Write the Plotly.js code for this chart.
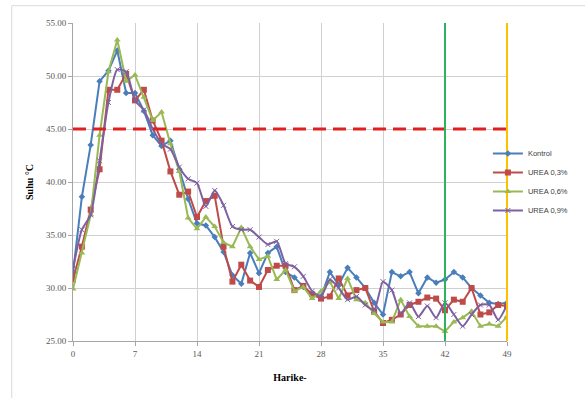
<!DOCTYPE html>
<html>
<head>
<meta charset="utf-8">
<script src="https://cdn.plot.ly/plotly-3.0.1.min.js"></script>
<style>html,body{margin:0;padding:0;background:#fff;}#chart{width:585px;height:398px;}</style>
</head>
<body>
<div id="chart"></div>
<script>
// ---- data ----
const days = [0,1,2,3,4,5,6,7,8,9,10,11,12,13,14,15,16,17,18,19,20,21,22,23,24,25,26,27,28,29,30,31,32,33,34,35,36,37,38,39,40,41,42,43,44,45,46,47,48,49];
const kontrol = [31.4,38.6,43.5,49.5,50.5,52.4,48.4,48.4,46.7,44.4,43.4,43.9,41.2,38.4,36.1,35.9,34.8,33.4,31.2,30.4,33.3,31.4,33.3,33.9,31.5,31.0,30.1,29.4,29.2,31.5,30.3,31.9,31.0,30.0,28.6,27.5,31.5,31.1,31.5,29.5,31.0,30.5,30.8,31.5,31.0,30.0,29.3,28.6,28.5,28.6];
const urea03 = [30.8,33.9,37.4,41.2,48.7,48.7,50.2,47.7,48.7,45.8,43.9,41.0,38.8,39.1,36.7,38.2,38.7,33.9,30.6,32.2,30.7,30.1,31.7,32.1,32.1,29.8,30.2,29.4,29.0,29.2,30.9,29.3,29.8,30.0,27.8,26.7,27.0,27.5,28.4,28.7,29.1,29.0,27.9,28.9,28.7,30.0,27.5,27.7,28.4,28.3];
const urea06 = [29.9,33.3,36.9,44.4,50.4,53.4,49.5,50.1,48.0,45.8,46.6,43.6,41.0,36.6,35.6,36.7,35.8,34.3,33.9,35.7,33.9,32.7,33.0,30.8,31.7,29.7,30.1,29.0,29.7,30.6,29.0,30.9,28.9,28.6,27.6,26.8,26.8,28.9,27.3,26.4,26.4,26.4,25.9,26.8,27.2,27.8,26.4,26.6,26.4,27.3];
const urea09 = [31.8,35.5,36.9,42.0,47.5,50.6,50.4,47.7,46.8,45.0,43.6,43.1,41.4,40.3,39.9,37.7,39.2,37.8,35.8,35.5,35.5,34.8,34.1,34.4,32.3,32.0,31.1,29.7,29.2,30.8,30.0,28.9,29.2,28.4,27.9,30.6,29.8,27.6,28.6,27.3,28.3,27.2,28.6,27.5,26.4,27.5,28.4,28.4,27.0,28.4];
const seriesNames = ["Kontrol","UREA 0,3%","UREA 0,6%","UREA 0,9%"];
const thresholdTemp = 45;
const markerDays = [42, 49];
const xTicks = [0,7,14,21,28,35,42,49];
const yTicks = [25,30,35,40,45,50,55];
const xRange = [0, 49];
const yRange = [25, 55];

const colors = ["#4a7ebb","#be4b48","#98b954","#7d60a0"];
const tickFont = {family:"Liberation Serif, serif", size:9, color:"#595959"};
const titleFont = {family:"Liberation Serif, serif", size:10, color:"#000", weight:"bold"};

const traces = [
  {x:days, y:kontrol, name:seriesNames[0], mode:"lines+markers",
   line:{color:colors[0], width:2}, marker:{symbol:"diamond", size:5, color:colors[0]}},
  {x:days, y:urea03, name:seriesNames[1], mode:"lines+markers",
   line:{color:colors[1], width:2}, marker:{symbol:"square", size:6, color:colors[1]}},
  {x:days, y:urea06, name:seriesNames[2], mode:"lines+markers",
   line:{color:colors[2], width:2}, marker:{symbol:"triangle-up", size:6, color:colors[2]}},
  {x:days, y:urea09, name:seriesNames[3], mode:"lines+markers",
   line:{color:colors[3], width:2, shape:"spline", smoothing:0.6},
   marker:{symbol:"x-thin-open", size:5, color:colors[3], line:{color:"#a08cc0", width:1}}}
];

// vertical marker lines placed as a fraction of the x range (not clipped at the edge)
const fracX = d => (d - xRange[0]) / (xRange[1] - xRange[0]);

const layout = {
  width:585, height:398,
  margin:{l:73, r:78, t:23, b:57},
  paper_bgcolor:"#fff", plot_bgcolor:"#fff",
  showlegend:true,
  legend:{x:0.956, xanchor:"left", y:0.50, yanchor:"middle",
    font:{family:"Liberation Sans, Arial, sans-serif", size:7.5, color:"#404040"},
    itemwidth:30, tracegroupgap:0, bgcolor:"rgba(0,0,0,0)", borderwidth:0},
  xaxis:{range:xRange, tickvals:xTicks, ticktext:xTicks.map(String),
    showgrid:true, gridcolor:"#d0d0d0", gridwidth:1,
    showline:true, linecolor:"#a6a6a6", linewidth:1,
    ticks:"outside", ticklen:4, tickcolor:"#a6a6a6",
    zeroline:false, tickfont:tickFont,
    title:{text:"Harike-", font:titleFont, standoff:16}},
  yaxis:{range:yRange, tickvals:yTicks, ticktext:yTicks.map(v=>v.toFixed(2)),
    showgrid:true, gridcolor:"#d0d0d0", gridwidth:1,
    showline:true, linecolor:"#a6a6a6", linewidth:1,
    ticks:"outside", ticklen:4, tickcolor:"#a6a6a6",
    zeroline:false, tickfont:tickFont,
    title:{text:"Suhu °C", font:titleFont, standoff:10}},
  shapes:[
    {type:"rect", xref:"paper", yref:"paper", x0:-0.1412, x1:1.19, y0:-0.216, y1:1.0544,
     line:{color:"#d9d9d9", width:1}, fillcolor:"rgba(0,0,0,0)", layer:"below"},
    {type:"line", xref:"x", yref:"y", x0:days[0], x1:days[days.length-1], y0:thresholdTemp, y1:thresholdTemp,
     line:{color:"#e02020", width:3, dash:"13px,7px"}},
    {type:"line", xref:"paper", yref:"y", x0:fracX(markerDays[0]), x1:fracX(markerDays[0]), y0:yRange[0], y1:yRange[1],
     line:{color:"#2db35d", width:2}},
    {type:"line", xref:"paper", yref:"y", x0:fracX(markerDays[1]), x1:fracX(markerDays[1]), y0:yRange[0], y1:yRange[1],
     line:{color:"#ffc000", width:2}}
  ]
};

Plotly.newPlot("chart", traces, layout, {displayModeBar:false, staticPlot:true});
</script>
</body>
</html>
